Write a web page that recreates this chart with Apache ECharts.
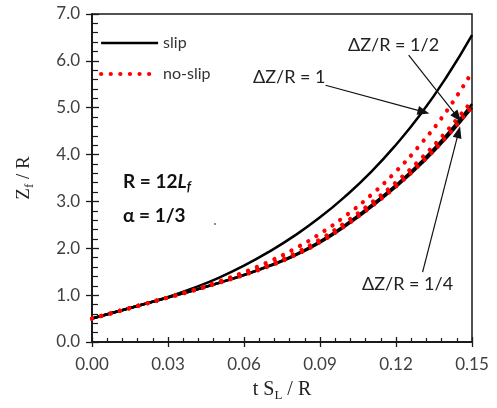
<!DOCTYPE html>
<html><head><meta charset="utf-8">
<script src="https://cdn.jsdelivr.net/npm/echarts@6/dist/echarts.min.js"></script>
<style>html,body{margin:0;padding:0;background:#fff}#c{width:497px;height:408px}</style>
</head><body><div id="c"></div>
<script>
// time axis t S_L / R
const tValues = [0, 0.01, 0.02, 0.03, 0.04, 0.05, 0.06, 0.07, 0.08, 0.09, 0.10, 0.11, 0.12, 0.13, 0.14, 0.15];
// Z_f / R, slip (black solid)
const slipDz1       = [0.50, 0.65, 0.80, 0.96, 1.15, 1.37, 1.63, 1.93, 2.27, 2.66, 3.11, 3.62, 4.21, 4.88, 5.66, 6.55];
const slipDzHalf    = [0.50, 0.65, 0.80, 0.95, 1.10, 1.26, 1.43, 1.63, 1.86, 2.15, 2.50, 2.91, 3.35, 3.85, 4.42, 5.08];
const slipDzQuarter = [0.50, 0.65, 0.80, 0.95, 1.10, 1.26, 1.43, 1.62, 1.84, 2.12, 2.47, 2.87, 3.31, 3.80, 4.36, 5.00];
// Z_f / R, no-slip (red dotted)
const noSlipDz1       = [0.50, 0.65, 0.80, 0.95, 1.11, 1.29, 1.49, 1.72, 1.99, 2.31, 2.69, 3.13, 3.64, 4.24, 4.93, 5.76];
const noSlipDzHalf    = [0.50, 0.65, 0.80, 0.95, 1.10, 1.27, 1.45, 1.65, 1.89, 2.19, 2.55, 2.96, 3.41, 3.92, 4.50, 5.15];
const noSlipDzQuarter = [0.50, 0.65, 0.80, 0.95, 1.10, 1.26, 1.43, 1.62, 1.85, 2.13, 2.48, 2.88, 3.32, 3.82, 4.38, 5.03];
// tick labels
const xTickLabels = ['0.00', '0.03', '0.06', '0.09', '0.12', '0.15'];
const yTickLabels = ['0.0', '1.0', '2.0', '3.0', '4.0', '5.0', '6.0', '7.0'];
// annotation arrows: [from, to] in data coords
const arrowDz1       = [[0.0922, 5.48], [0.1309, 4.91]];
const arrowDzHalf    = [[0.1250, 6.12], [0.1443, 4.80]];
const arrowDzQuarter = [[0.1305, 1.49], [0.1447, 4.48]];

const pair = (ys) => tValues.map((t, i) => [t, ys[i]]);
const AX = '#1a1a1a';
const LBL = '#404040';
const FONT = 'Lato';

const chart = echarts.init(document.getElementById('c'), null, {renderer: 'canvas'});

const slipStyle = {color: '#000', width: 2.5};
const noSlipStyle = {color: '#ff0000', width: 4.2, type: [0.1, 9.5], cap: 'round'};

function mkSeries(name, ys, style, z) {
  return {
    type: 'line', name: name, data: pair(ys), smooth: true, showSymbol: false, symbol: 'none',
    lineStyle: style, itemStyle: {color: style.color}, z: z, silent: true, animation: false
  };
}

function arrowLine(a) {
  return [{coord: a[0]}, {coord: a[1]}];
}

const option = {
  animation: false,
  grid: {left: 92, right: 25, top: 14, bottom: 66, show: true, borderColor: AX, borderWidth: 1.5, containLabel: false},
  legend: {
    data: [
      {name: 'slip', itemStyle: {opacity: 0}, lineStyle: {color: '#000', width: 2.5, type: 'solid'}},
      {name: 'no-slip', itemStyle: {opacity: 0}, lineStyle: {color: '#ff0000', width: 4.2, type: [0.1, 9.5], cap: 'round'}}
    ],
    orient: 'vertical', left: 94, top: 30, itemWidth: 57, itemHeight: 14, itemGap: 15,
    textStyle: {fontFamily: FONT, fontSize: 16, color: '#333'}, selectedMode: false
  },
  xAxis: [
    {type: 'value', min: 0, max: 0.15, interval: 0.03, position: 'bottom',
      axisLine: {lineStyle: {color: AX, width: 1.5}},
      axisTick: {inside: true, length: 5, lineStyle: {color: AX, width: 1.3}},
      minorTick: {show: true, splitNumber: 5, length: 4, lineStyle: {color: AX, width: 1.2}},
      axisLabel: {show: false}, splitLine: {show: false}},
    {type: 'value', min: 0, max: 0.15, interval: 0.03, position: 'bottom',
      axisLine: {lineStyle: {color: AX, width: 1.5}},
      axisTick: {inside: false, length: 5, lineStyle: {color: AX, width: 1.3}},
      axisLabel: {margin: 14, fontFamily: FONT, fontSize: 17, color: LBL,
        formatter: (v) => xTickLabels[Math.round(v / 0.03)]},
      splitLine: {show: false},
      name: '{n|t S}{s|L}{n| / R}', nameLocation: 'middle', nameGap: 36,
      nameTextStyle: {rich: {
        n: {fontFamily: 'Liberation Serif', fontSize: 20, color: '#222', lineHeight: 24, verticalAlign: 'middle'},
        s: {fontFamily: 'Liberation Serif', fontSize: 13, color: '#222', lineHeight: 12, verticalAlign: 'bottom'}
      }}}
  ],
  yAxis: [
    {type: 'value', min: 0, max: 7, interval: 1, position: 'left',
      axisLine: {lineStyle: {color: AX, width: 1.5}},
      axisTick: {inside: true, length: 7, lineStyle: {color: AX, width: 1.3}},
      minorTick: {show: true, splitNumber: 5, length: 6, lineStyle: {color: AX, width: 1.2}},
      axisLabel: {show: false}, splitLine: {show: false}},
    {type: 'value', min: 0, max: 7, interval: 1, position: 'left',
      axisLine: {lineStyle: {color: AX, width: 1.5}},
      axisTick: {inside: false, length: 6, lineStyle: {color: AX, width: 1.3}},
      axisLabel: {margin: 12, fontFamily: FONT, fontSize: 17, color: LBL,
        formatter: (v) => yTickLabels[Math.round(v)]},
      splitLine: {show: false},
      name: '{n|Z}{s|f}{n| / R}', nameLocation: 'middle', nameGap: 56,
      nameTextStyle: {rich: {
        n: {fontFamily: 'Liberation Serif', fontSize: 19, color: '#222', lineHeight: 24, verticalAlign: 'middle'},
        s: {fontFamily: 'Liberation Serif', fontSize: 13, color: '#222', lineHeight: 12, verticalAlign: 'bottom'}
      }}}
  ],
  series: [
    mkSeries('slip', slipDz1, slipStyle, 3),
    mkSeries('slip', slipDzHalf, slipStyle, 3),
    mkSeries('slip', slipDzQuarter, slipStyle, 3),
    mkSeries('no-slip', noSlipDz1, noSlipStyle, 4),
    mkSeries('no-slip', noSlipDzHalf, noSlipStyle, 4),
    mkSeries('no-slip', noSlipDzQuarter, noSlipStyle, 4),
    {type: 'line', name: 'arrows', data: [], silent: true, z: 5,
      markLine: {
        silent: true, animation: false, symbol: ['none', 'triangle'], symbolSize: [9, 12], precision: 4,
        label: {show: false},
        lineStyle: {color: '#111', width: 1.2, type: 'solid'},
        emphasis: {disabled: true},
        data: [arrowLine(arrowDz1), arrowLine(arrowDzHalf), arrowLine(arrowDzQuarter)]
      }}
  ],
  graphic: [
    {type: 'text', left: 348, top: 36, style: {text: 'ΔZ/R = 1/2', fontFamily: FONT, fontSize: 18, fill: '#222'}},
    {type: 'text', left: 253, top: 68, style: {text: 'ΔZ/R = 1', fontFamily: FONT, fontSize: 18, fill: '#222'}},
    {type: 'text', left: 362, top: 275, style: {text: 'ΔZ/R = 1/4', fontFamily: FONT, fontSize: 18, fill: '#222'}},
    {type: 'text', left: 123, top: 172, style: {
      text: '{b|R = 12}{i|L}{s|f}',
      rich: {
        b: {fontFamily: FONT, fontWeight: 'bold', fontSize: 19, fill: '#111', lineHeight: 24, verticalAlign: 'middle'},
        i: {fontFamily: FONT, fontWeight: 'bold', fontStyle: 'italic', fontSize: 19, fill: '#111', lineHeight: 24, verticalAlign: 'middle'},
        s: {fontFamily: FONT, fontWeight: 'bold', fontStyle: 'italic', fontSize: 13, fill: '#111', lineHeight: 12, verticalAlign: 'bottom'}
      }}},
    {type: 'text', left: 123, top: 206, style: {text: 'α = 1/3', fontFamily: FONT, fontWeight: 'bold', fontSize: 19, fill: '#111'}},
    {type: 'circle', shape: {cx: 215, cy: 224, r: 0.9}, style: {fill: '#555'}}
  ]
};
chart.setOption(option);
</script>
</body></html>
